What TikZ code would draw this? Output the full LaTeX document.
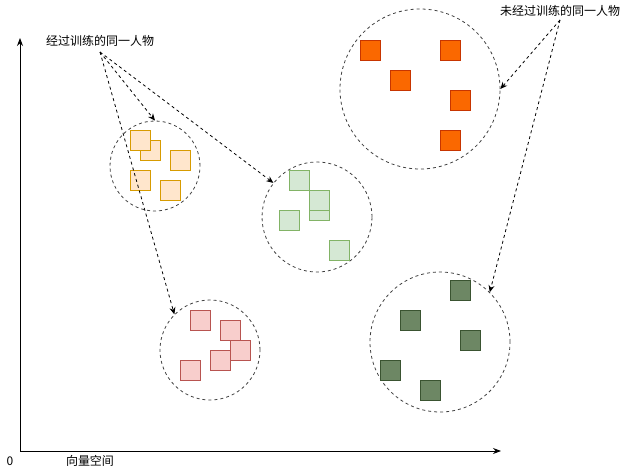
\documentclass[tikz,border=0pt]{standalone}
\usepackage{fontspec}
\newfontfamily\cjk{Noto Sans CJK SC}
\usetikzlibrary{arrows.meta}
\definecolor{yellowfill}{HTML}{FFE6CC}
\definecolor{yellowline}{HTML}{D79B00}
\definecolor{greenfill}{HTML}{D5E8D4}
\definecolor{greenline}{HTML}{82B366}
\definecolor{redfill}{HTML}{F8CECC}
\definecolor{redline}{HTML}{B85450}
\definecolor{orangefill}{HTML}{FA6800}
\definecolor{orangeline}{HTML}{C73500}
\definecolor{olivefill}{HTML}{6D8764}
\definecolor{oliveline}{HTML}{3A5431}
\tikzset{
  cluster/.style={circle, draw=black!75, dash pattern=on 3pt off 3pt, line width=0.8pt, inner sep=0pt},
  face/.style={rectangle, minimum size=20pt, inner sep=0pt, line width=0.9pt},
  label/.style={font=\cjk\fontsize{12}{14}\selectfont, inner sep=0pt},
  pointer/.style={-{Stealth[length=7pt,width=6pt]}, dash pattern=on 3pt off 3pt, line width=0.8pt},
}

\begin{document}
\begin{tikzpicture}[x=1pt,y=-1pt]
\useasboundingbox (0,0) rectangle (641,471);

% axes
\coordinate (O) at (20,451);
\coordinate (ytop) at (20,38);
\coordinate (xend) at (501,451);
\draw[line width=0.9pt,-{Stealth[length=8pt,width=6pt]}] (O) -- (ytop);
\draw[line width=0.9pt,-{Stealth[length=8pt,width=6pt]}] (O) -- (xend);
\node[label] (zero) at (10,461) {0};
\node[label] (space) at (90,461) {向量空间};

% clusters
\node[cluster, minimum size=90pt] (yellow) at (155,166) {};
\node[cluster, minimum size=110pt] (green) at (317,217) {};
\node[cluster, minimum size=100pt] (red) at (210,350) {};
\node[cluster, minimum size=160pt] (orange) at (420,89) {};
\node[cluster, minimum size=140pt] (olive) at (440,342) {};

% trained faces
\foreach \x/\y [count=\i] in {180/160, 140/180, 170/190, 150/150, 140/140}
  \node[face, fill=yellowfill, draw=yellowline] (y\i) at (\x,\y) {};
\foreach \x/\y [count=\i] in {319/210, 289/220, 339/250, 319/200, 299/180}
  \node[face, fill=greenfill, draw=greenline] (g\i) at (\x,\y) {};
\foreach \x/\y [count=\i] in {200/320, 240/350, 230/330, 220/360, 190/370}
  \node[face, fill=redfill, draw=redline] (r\i) at (\x,\y) {};

% untrained faces
\foreach \x/\y [count=\i] in {370/50, 450/50, 400/80, 460/100, 450/140}
  \node[face, fill=orangefill, draw=orangeline] (o\i) at (\x,\y) {};
\foreach \x/\y [count=\i] in {460/290, 410/320, 470/340, 390/370, 430/390}
  \node[face, fill=olivefill, draw=oliveline] (d\i) at (\x,\y) {};

% labels and pointers
\node[label] (trained) at (100,41) {经过训练的同一人物};
\node[label] (untrained) at (560,11) {未经过训练的同一人物};
\coordinate (tsrc) at (100,52);
\coordinate (usrc) at (560,20);
\draw[pointer] (tsrc) -- (yellow.north);
\draw[pointer] (tsrc) -- (green.142);
\draw[pointer] (tsrc) -- (red.135);
\draw[pointer] (usrc) -- (orange.east);
\draw[pointer] (usrc) -- (olive.45);
\end{tikzpicture}
\end{document}
